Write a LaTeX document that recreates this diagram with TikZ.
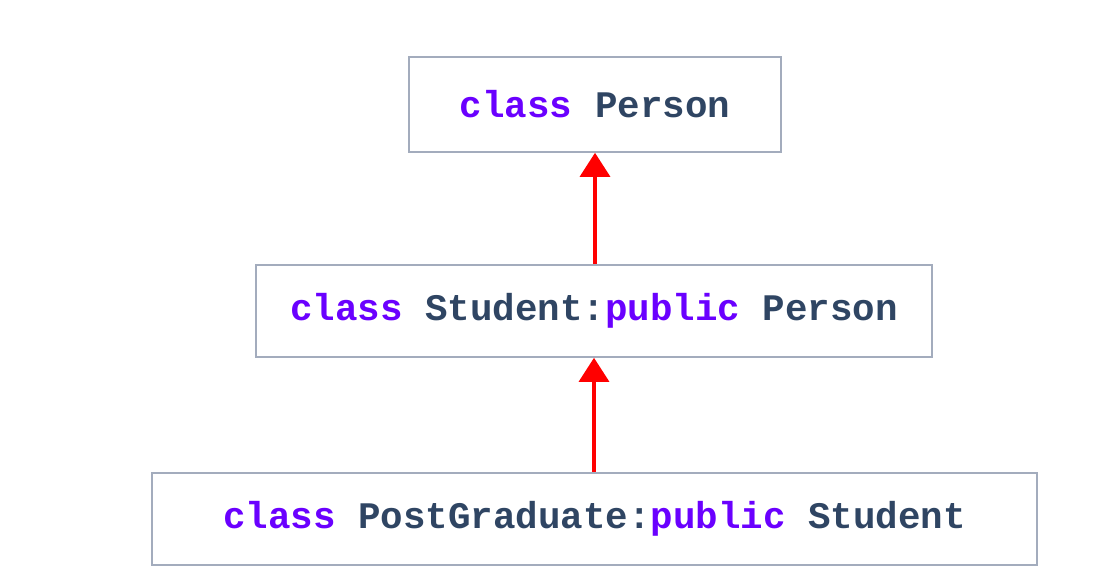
\documentclass[tikz,border=0pt]{standalone}
\usepackage{fontspec}
\setmonofont{Liberation Mono}
\usetikzlibrary{arrows.meta}
\definecolor{kwcol}{HTML}{6A00FF}
\definecolor{txtcol}{HTML}{2F4563}
\definecolor{boxcol}{HTML}{A3ACBD}
\tikzstyle{cls} = [rectangle, draw=boxcol, line width=.8pt, minimum height=46pt, text=txtcol, font=\fontsize{18.75}{22}\ttfamily\bfseries]
\tikzstyle{inherit} = [draw=red, line width=1.6pt, -{Triangle[width=15pt,length=12pt]}]
\newcommand{\kw}[1]{\textcolor{kwcol}{#1}}

\begin{document}
\begin{tikzpicture}[x=.5pt, y=-.5pt]
			\useasboundingbox (0,0) rectangle (1119,588);
			\node [cls, minimum width=186pt, minimum height=47.5pt] (person) at (595,104.5) {\kw{class} Person};
			\node [cls, minimum width=338pt] (student) at (594,311) {\kw{class} Student:\kw{public} Person};
			\node [cls, minimum width=442.5pt] (postgrad) at (594.5,519) {\kw{class} PostGraduate:\kw{public} Student};
			\draw [inherit] (student.north -| person.south) -- (person.south);
			\draw [inherit] (postgrad.north -| student.south) -- (student.south);
		\end{tikzpicture}
\end{document}
